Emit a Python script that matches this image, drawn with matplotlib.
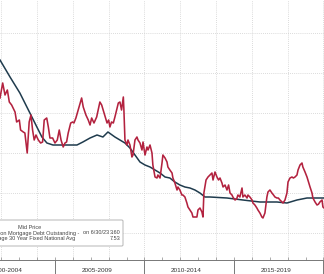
import matplotlib
matplotlib.use("Agg")
import matplotlib.pyplot as plt
import numpy as np
from matplotlib.patches import FancyBboxPatch

plt.rcParams['font.family'] = ['Liberation Sans', 'DejaVu Sans']

# Bankrate 30 year fixed national average (red), decimal year / percent
rate_years = [2001.93, 2002.08, 2002.21, 2002.34, 2002.45, 2002.58, 2002.77, 2002.86, 2003.01, 2003.08,
              2003.23, 2003.32, 2003.45, 2003.56, 2003.66, 2003.75, 2003.84, 2003.94, 2004.07, 2004.20,
              2004.31, 2004.40, 2004.54, 2004.63, 2004.72, 2004.87, 2005.00, 2005.13, 2005.24, 2005.34,
              2005.46, 2005.56, 2005.65, 2005.74, 2005.88, 2005.99, 2006.06, 2006.17, 2006.30, 2006.49,
              2006.58, 2006.73, 2006.86, 2006.96, 2007.05, 2007.18, 2007.33, 2007.51, 2007.61, 2007.91,
              2008.00, 2008.07, 2008.16, 2008.26, 2008.35, 2008.54, 2008.63, 2008.72, 2008.82, 2008.85,
              2008.91, 2009.02, 2009.08, 2009.19, 2009.30, 2009.36, 2009.47, 2009.58, 2009.64, 2009.75,
              2009.86, 2009.92, 2010.03, 2010.14, 2010.20, 2010.31, 2010.42, 2010.47, 2010.59, 2010.70,
              2010.75, 2010.87, 2010.98, 2011.03, 2011.15, 2011.26, 2011.31, 2011.42, 2011.54, 2011.59,
              2011.70, 2011.82, 2011.87, 2011.98, 2012.09, 2012.15, 2012.26, 2012.37, 2012.43, 2012.54,
              2012.65, 2012.71, 2012.93, 2012.99, 2013.10, 2013.21, 2013.27, 2013.32, 2013.44, 2013.55,
              2013.66, 2013.77, 2013.83, 2013.94, 2014.05, 2014.14, 2014.22, 2014.33, 2014.39, 2014.50,
              2014.61, 2014.70, 2014.78, 2014.89, 2014.94, 2015.06, 2015.15, 2015.22, 2015.33, 2015.45,
              2015.50, 2015.61, 2015.73, 2015.78, 2015.89, 2016.01, 2016.06, 2016.17, 2016.28, 2016.34,
              2016.45, 2016.56, 2016.62, 2016.73, 2016.84, 2016.90, 2017.01, 2017.12, 2017.21, 2017.29,
              2017.40, 2017.48, 2017.57, 2017.68, 2017.74, 2017.85, 2017.96, 2018.02, 2018.13, 2018.24,
              2018.32, 2018.41, 2018.52, 2018.58, 2018.69, 2018.80, 2018.85, 2018.97, 2019.08, 2019.13,
              2019.25, 2019.36, 2019.41, 2019.53, 2019.64, 2019.72, 2019.80, 2019.92, 2019.97, 2020.10]
rate_values = [6.375, 6.75, 6.45, 6.575, 6.275, 6.2, 6.025, 5.775, 5.825, 5.575,
               5.525, 5.5, 5.0, 5.775, 5.95, 5.575, 5.325, 5.45, 5.325, 5.25,
               5.275, 5.825, 5.875, 5.65, 5.375, 5.375, 5.25, 5.325, 5.575, 5.325,
               5.15, 5.25, 5.275, 5.5, 5.75, 5.775, 5.75, 5.875, 6.075, 6.375,
               6.15, 5.95, 5.825, 5.7, 5.875, 5.75, 5.9, 6.275, 6.2, 5.75,
               5.825, 5.65, 5.775, 5.75, 5.9, 6.25, 6.275, 6.075, 6.4, 6.1,
               5.325, 5.2, 5.325, 5.2, 4.9, 4.95, 5.325, 5.4, 5.325, 5.25,
               5.075, 5.275, 4.95, 5.15, 5.075, 5.2, 5.0, 4.7, 4.4, 4.375,
               4.45, 4.375, 4.75, 4.95, 4.875, 4.775, 4.65, 4.575, 4.5, 4.375,
               4.25, 4.075, 4.15, 4.075, 3.95, 3.95, 3.9, 3.75, 3.65, 3.575,
               3.5, 3.4, 3.4, 3.575, 3.625, 3.525, 3.4, 4.0, 4.325, 4.4,
               4.45, 4.5, 4.325, 4.525, 4.4, 4.325, 4.375, 4.25, 4.15, 4.2,
               4.075, 4.2, 4.0, 3.95, 3.9, 3.825, 3.85, 3.95, 3.9, 4.125,
               3.9, 3.95, 3.875, 3.95, 3.9, 3.825, 3.75, 3.7, 3.625, 3.575,
               3.5, 3.4, 3.375, 3.5, 3.9, 4.025, 4.075, 4.0, 3.95, 3.9,
               3.875, 3.875, 3.825, 3.775, 3.75, 3.825, 4.0, 4.275, 4.375, 4.4,
               4.375, 4.4, 4.45, 4.575, 4.7, 4.75, 4.65, 4.525, 4.4, 4.325,
               4.15, 4.0, 3.875, 3.775, 3.7, 3.72, 3.775, 3.825, 3.65, 3.6]

# average interest rate on mortgage debt outstanding (dark blue)
debt_years = [2001.93, 2002.49, 2003.04, 2003.60, 2003.99, 2004.27, 2004.55, 2004.89, 2005.67, 2006.23,
              2006.56, 2006.96, 2007.35, 2007.68, 2007.96, 2008.35, 2008.63, 2008.91, 2009.19, 2009.47,
              2009.75, 2010.03, 2010.31, 2010.59, 2010.87, 2011.15, 2011.42, 2011.70, 2011.98, 2012.26,
              2012.54, 2012.82, 2013.10, 2013.38, 2013.66, 2014.61, 2015.50, 2016.45, 2017.40, 2017.96,
              2018.52, 2019.08, 2019.41, 2019.97, 2020.10]
debt_values = [7.325, 6.9, 6.5, 6.0, 5.65, 5.4, 5.25, 5.2, 5.2, 5.2,
               5.275, 5.375, 5.45, 5.4, 5.525, 5.4, 5.325, 5.25, 5.125, 4.95,
               4.775, 4.7, 4.65, 4.575, 4.5, 4.4, 4.375, 4.275, 4.2, 4.15,
               4.125, 4.075, 4.0, 3.9, 3.9, 3.875, 3.825, 3.775, 3.775, 3.75,
               3.825, 3.875, 3.875, 3.875, 3.875]

period_bounds = [2000, 2005, 2010, 2015, 2020]
period_labels = ["2000-2004", "2005-2009", "2010-2014", "2015-2019"]

W, H = 324, 274
fig = plt.figure(figsize=(W / 100, H / 100), dpi=100)
fig.patch.set_facecolor("white")
ax = fig.add_axes([0, 14 / H, 1, 260 / H])
ax.set_facecolor("white")

ax.set_xlim(2001.93, 2020.03)
ax.set_ylim(2.325, 8.825)

grid_kw = dict(color="#cfcfcf", lw=0.6, ls=(0, (1, 1.5)), zorder=0)
for yv in range(3, 9):
    ax.axhline(yv, **grid_kw)
for xv in range(2002, 2021, 2):
    ax.axvline(xv, **grid_kw)

ax.plot(debt_years, debt_values, color="#1f3b4d", lw=1.1, zorder=3)
ax.plot(rate_years, rate_values, color="#b3223f", lw=1.15, zorder=4)

for s in ["top", "right", "left"]:
    ax.spines[s].set_visible(False)
ax.spines["bottom"].set_color("#777777")
ax.spines["bottom"].set_linewidth(0.7)
ax.set_yticks([])
ax.set_xticks(np.arange(2002, 2021), labels=[""] * 19)
ax.tick_params(axis="x", direction="in", length=2.5, width=0.5, color="#888888")

trans = ax.get_xaxis_transform()
for b in period_bounds:
    ax.plot([b, b], [0, -14 / 260], transform=trans, color="#777777", lw=0.7, clip_on=False)
for i, lab in enumerate(period_labels):
    mid = (period_bounds[i] + period_bounds[i + 1]) / 2 - 0.15
    ax.text(mid, -10 / 260, lab, transform=trans, ha="center", va="center",
            fontsize=4.6, color="#333333")

# legend box, cut by the left edge
box = FancyBboxPatch((-20 / W, 1 - 246 / H), 143 / W, 26 / H, boxstyle="round,pad=0,rounding_size=0.004",
                     transform=fig.transFigure, facecolor="white", edgecolor="#b5b5b5", lw=0.7, zorder=10)
fig.patches.append(box)
tk = dict(fontsize=4.0, color="#444444", va="center", zorder=11)
fig.text(30 / W, 1 - 227.5 / H, "Mid Price", ha="center", **tk)
fig.text(79 / W, 1 - 233 / H, "US Average Interest Rate on Mortgage Debt Outstanding -", ha="right", **tk)
fig.text(83 / W, 1 - 233 / H, "on 6/30/23", ha="left", **tk)
fig.text(120 / W, 1 - 233 / H, "3.60", ha="right", **tk)
fig.text(75 / W, 1 - 238.5 / H, "Bankrate.com US Home Mortgage Average 30 Year Fixed National Avg", ha="right", **tk)
fig.text(120 / W, 1 - 238.5 / H, "7.53", ha="right", **tk)

fig.savefig("out.png", dpi=100)
